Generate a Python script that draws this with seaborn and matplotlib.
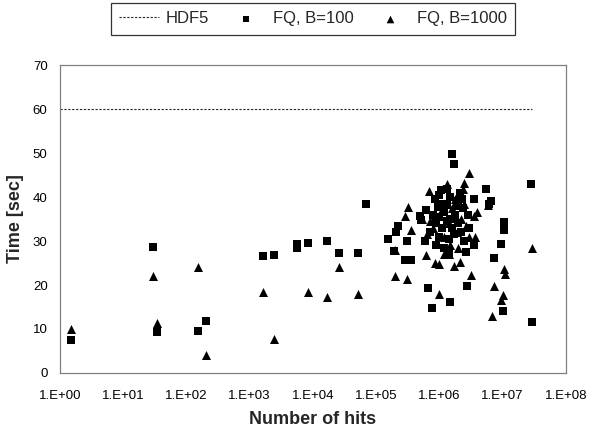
import matplotlib
matplotlib.use("Agg")
import matplotlib.pyplot as plt
import seaborn as sns
import pandas as pd
from matplotlib.ticker import FixedLocator, FixedFormatter, NullLocator

sns.set_theme(style="white")
plt.rcParams['font.family'] = ['Liberation Sans', 'DejaVu Sans']

# HDF5 reference line
hdf5_x = [1.0, 2.9e7]
hdf5_y = [60, 60]

# FQ, B=100 (squares)
b100_x = [1.5, 30, 34, 150, 200, 1600, 2400, 5600, 5600, 8300, 1.67e4, 2.56e4, 5.1e4, 6.8e4,
          1.6e6, 1.7e6, 1.05e6, 1.3e6, 5.4e6, 2.8e7, 3.5e6, 6.5e6, 6.0e6,
          6.2e5, 5.0e5, 5.2e5, 1.05e7, 1.05e7, 2.2e5, 2.1e5, 1.55e5, 3.1e5,
          3.5e6, 9.3e6, 1.95e5, 2.9e5, 3.6e5, 2.6e6, 1.4e6, 7.2e6,
          6.6e5, 2.75e6, 1.5e6, 7.6e5, 1.0e7, 2.9e7,
          9.5e5, 1.3e6, 2.0e6, 2.3e6,
          8e5, 9e5, 1.0e6, 1.1e6, 1.2e6, 1.3e6, 1.5e6, 1.6e6, 1.8e6, 2.0e6, 2.2e6,
          1.0e6, 1.4e6, 1.7e6, 2.5e6, 7e5, 6e5, 9e5, 1.2e6, 2.8e6, 3.0e6, 1.9e6,
          1.1e6, 8.5e5, 2.4e6, 1.0e6, 1.5e6, 2.1e6]
b100_y = [7.4, 28.7, 9.3, 9.5, 11.8, 26.5, 26.9, 29.3, 28.4, 29.6, 29.9, 27.2, 27.2, 38.4,
          49.8, 47.6, 41.6, 41.9, 41.9, 43.0, 39.6, 39.2, 38.5,
          37.0, 35.8, 34.7, 34.3, 32.5, 33.5, 32.0, 30.5, 30.1,
          29.0, 29.3, 27.7, 25.7, 25.7, 27.4, 27.1, 26.1,
          19.4, 19.8, 16.2, 14.8, 14.2, 11.6,
          37.7, 38.1, 39.2, 39.6,
          36.0, 34.0, 35.5, 33.0, 36.5, 34.5, 35.0, 33.0, 36.0, 34.0, 32.0,
          31.0, 30.5, 31.5, 30.0, 32.0, 30.0, 29.0, 28.5, 36.0, 33.0, 38.0,
          38.5, 39.5, 37.5, 40.5, 40.0, 41.0]

# FQ, B=1000 (triangles)
b1000_x = [1.5, 30, 34, 150, 200, 1600, 2400, 8300, 1.67e4, 2.56e4, 5.1e4,
           2.95e6, 2.45e6, 2.4e6, 6.9e5, 1.3e6, 5.8e6, 3.2e5, 2.9e5, 5.3e5,
           3.5e6, 4.0e6, 3.6e5, 3.7e6, 2.9e7, 2.0e5, 6.2e5, 8.7e5, 1.0e6,
           1.7e6, 2.1e6, 1.05e7, 1.1e7, 2.0e5, 3.1e5, 3.2e6, 1.0e6, 7.2e6,
           1.0e7, 9.5e6, 6.8e6, 1.17e6, 1.4e6,
           8e5, 1.0e6, 1.2e6, 1.4e6, 1.6e6, 1.9e6, 2.2e6, 2.6e6, 9e5, 1.5e6,
           2.0e6, 7e5, 1.1e6, 1.8e6, 2.5e6, 3.0e6, 6.5e5]
b1000_y = [10.0, 22.1, 11.4, 24.1, 4.2, 18.4, 7.7, 18.5, 17.3, 24.0, 18.0,
           45.5, 43.2, 41.9, 41.4, 42.9, 38.1, 37.7, 35.8, 35.0,
           35.8, 36.6, 32.4, 30.9, 28.4, 27.9, 26.8, 25.1, 24.7,
           24.3, 25.3, 23.6, 22.4, 22.1, 21.3, 22.3, 18.0, 19.8,
           17.7, 16.7, 12.9, 27.0, 27.0,
           33.0, 36.0, 31.0, 34.0, 37.5, 32.0, 35.0, 33.5, 29.5, 29.0,
           28.5, 34.5, 38.0, 39.5, 38.5, 31.0, 31.5]

x_tick_vals = [1e0, 1e1, 1e2, 1e3, 1e4, 1e5, 1e6, 1e7, 1e8]
x_tick_labels = ["1.E+00", "1.E+01", "1.E+02", "1.E+03", "1.E+04",
                 "1.E+05", "1.E+06", "1.E+07", "1.E+08"]
y_tick_vals = [0, 10, 20, 30, 40, 50, 60, 70]

df_h = pd.DataFrame({"x": hdf5_x, "y": hdf5_y})
df_a = pd.DataFrame({"x": b100_x, "y": b100_y})
df_b = pd.DataFrame({"x": b1000_x, "y": b1000_y})

fig = plt.figure(figsize=(5.89, 4.34), dpi=100)
ax = fig.add_axes([0.102, 0.1406, 0.8585, 0.7094])

sns.lineplot(data=df_h, x="x", y="y", ax=ax, color="#222222", linewidth=0.8,
             linestyle=(0, (2, 1.5)), label="HDF5")
sns.scatterplot(data=df_a, x="x", y="y", ax=ax, marker="s", color="black",
                s=34, edgecolor="black", linewidth=0, label="FQ, B=100")
sns.scatterplot(data=df_b, x="x", y="y", ax=ax, marker="^", color="black",
                s=42, edgecolor="black", linewidth=0, label="FQ, B=1000")

ax.set_xscale("log")
ax.set_xlim(1, 1e8)
ax.set_ylim(0, 70)
ax.xaxis.set_major_locator(FixedLocator(x_tick_vals))
ax.xaxis.set_major_formatter(FixedFormatter(x_tick_labels))
ax.xaxis.set_minor_locator(NullLocator())
ax.set_yticks(y_tick_vals)
ax.tick_params(axis="both", which="major", direction="out", length=4, width=0.8,
               color="#555555", labelsize=9.5, labelcolor="black", pad=5)
ax.tick_params(axis="x", pad=8)
for sp in ax.spines.values():
    sp.set_color("#808080")
    sp.set_linewidth(0.9)
    sp.set_visible(True)

ax.set_xlabel("Number of hits", fontsize=13, fontweight="bold", labelpad=7)
ax.set_ylabel("Time [sec]", fontsize=13, fontweight="bold", labelpad=6)

leg = ax.legend(loc="lower center", bbox_to_anchor=(0.5, 1.072), ncol=3,
                frameon=True, fancybox=False, fontsize=12, handlelength=2.4,
                columnspacing=1.0, handletextpad=0.4, borderpad=0.5,
                markerscale=0.85)
leg.get_frame().set_edgecolor("black")
leg.get_frame().set_linewidth(0.9)

fig.savefig("out.png", dpi=100)
